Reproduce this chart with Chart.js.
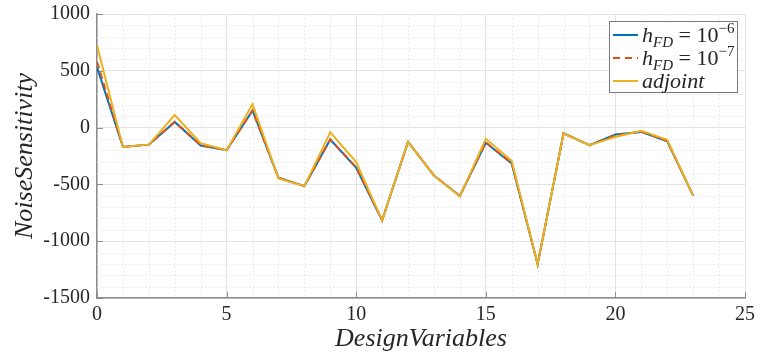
<!DOCTYPE html>
<html>
<head>
<meta charset="utf-8">
<script src="https://cdn.jsdelivr.net/npm/chart.js@4"></script>
<style>
  html, body { margin: 0; padding: 0; background: #fff; }
  #wrap { position: relative; width: 770px; height: 358px; }
  #legend {
    position: absolute; left: 609px; top: 21px; width: 127px; height: 69px;
    border: 1px solid #7a7a7a; background: #fff;
    font-family: "Liberation Serif", serif; font-size: 22px; color: #262626;
    padding-top: 1px;
  }
  .row { height: 23px; line-height: 23px; white-space: nowrap; display: flex; align-items: center; }
  .row svg { margin-left: 3px; margin-right: 4px; flex: none; }
  .row i { font-style: italic; }
  sub { font-size: 15px; vertical-align: -5px; line-height: 0; }
  sup { font-size: 15px; vertical-align: 9px; line-height: 0; }
</style>
</head>
<body>
<div id="wrap">
  <canvas id="c" width="770" height="358"></canvas>
  <div id="legend"></div>
</div>
<script>
// ---- data ----
const designVariables = [0,1,2,3,4,5,6,7,8,9,10,11,12,13,14,15,16,17,18,19,20,21,22,23];
const fdStep6 = [530,-170,-150,50,-158,-199,152,-440,-515,-105,-354,-816,-126,-421,-602,-134,-316,-1202,-50,-155,-61,-38,-120,-599];
const fdStep7 = [580,-170,-150,50,-155,-199,150,-442,-515,-105,-350,-816,-126,-421,-602,-130,-312,-1202,-50,-155,-68,-36,-118,-599];
const adjoint = [725,-170,-150,111,-138,-199,207,-447,-515,-41,-304,-816,-126,-421,-606,-99,-292,-1202,-52,-155,-82,-29,-108,-599];
const xTicks = [0,5,10,15,20,25];
const yTicks = [-1500,-1000,-500,0,500,1000];
const seriesNames = ['h_FD = 10^-6', 'h_FD = 10^-7', 'adjoint'];
const xTitle = 'DesignVariables';
const yTitle = 'NoiseSensitivity';

const colors = ['#0072BD', '#D95319', '#EDB120'];

function pts(ys) { return designVariables.map((x, i) => ({x: x, y: ys[i]})); }

const minorGrid = {
  id: 'minorGrid',
  beforeDatasetsDraw(chart) {
    const {ctx, chartArea: a, scales: {x, y}} = chart;
    ctx.save();
    ctx.strokeStyle = '#ececec';
    ctx.lineWidth = 1;
    ctx.setLineDash([2, 2]);
    for (let v = 0; v <= 25; v++) {
      if (v % 5 === 0) continue;
      const px = Math.round(x.getPixelForValue(v)) + 0.5;
      ctx.beginPath(); ctx.moveTo(px, a.top); ctx.lineTo(px, a.bottom); ctx.stroke();
    }
    for (let v = -1500; v <= 1000; v += 100) {
      if (v % 500 === 0) continue;
      const py = Math.round(y.getPixelForValue(v)) + 0.5;
      ctx.beginPath(); ctx.moveTo(a.left, py); ctx.lineTo(a.right, py); ctx.stroke();
    }
    ctx.setLineDash([]);
    // inward tick marks
    ctx.strokeStyle = '#8c8c8c';
    ctx.lineWidth = 1;
    xTicks.forEach(v => {
      const px = Math.round(x.getPixelForValue(v)) + 0.5;
      ctx.beginPath(); ctx.moveTo(px, a.bottom); ctx.lineTo(px, a.bottom - 6); ctx.stroke();
    });
    yTicks.forEach(v => {
      const py = Math.round(y.getPixelForValue(v)) + 0.5;
      ctx.beginPath(); ctx.moveTo(a.left, py); ctx.lineTo(a.left + 6, py); ctx.stroke();
    });
    ctx.restore();
  }
};

const tickFont = {family: '"Liberation Serif", serif', size: 20};
const titleFont = {family: '"Liberation Serif", serif', size: 26, style: 'italic'};

new Chart(document.getElementById('c'), {
  type: 'line',
  data: {
    datasets: [
      {label: seriesNames[0], order: 3, data: pts(fdStep6), borderColor: colors[0], borderWidth: 2, pointRadius: 0, tension: 0, fill: false},
      {label: seriesNames[1], order: 2, data: pts(fdStep7), borderColor: colors[1], borderWidth: 2, borderDash: [7, 4], pointRadius: 0, tension: 0, fill: false},
      {label: seriesNames[2], order: 1, data: pts(adjoint), borderColor: colors[2], borderWidth: 2, pointRadius: 0, tension: 0, fill: false}
    ]
  },
  options: {
    responsive: false,
    animation: false,
    events: [],
    layout: {padding: {top: 14, right: 25, left: 0, bottom: 0}},
    plugins: {legend: {display: false}, tooltip: {enabled: false}},
    scales: {
      x: {
        type: 'linear', min: 0, max: 25,
        afterBuildTicks: s => { s.ticks = xTicks.map(v => ({value: v})); },
        afterFit: s => { s.height = 60; s.paddingLeft = 0; s.paddingRight = 0; },
        ticks: {font: tickFont, color: '#262626', padding: 5, callback: v => String(v), maxRotation: 0},
        grid: {color: '#e3e3e3', lineWidth: 1, drawTicks: false},
        border: {display: true, color: '#8c8c8c', width: 1.5},
        title: {display: true, text: xTitle, font: titleFont, color: '#262626', padding: {top: 0, bottom: 3}}
      },
      y: {
        type: 'linear', min: -1500, max: 1000,
        afterBuildTicks: s => { s.ticks = yTicks.map(v => ({value: v})); },
        afterFit: s => { s.width = 97; s.paddingTop = 0; s.paddingBottom = 0; },
        ticks: {font: tickFont, color: '#262626', padding: 7, callback: v => String(v)},
        grid: {color: '#e3e3e3', lineWidth: 1, drawTicks: false},
        border: {display: true, color: '#8c8c8c', width: 1.5},
        title: {display: true, text: yTitle, font: titleFont, color: '#262626', padding: {top: 10, bottom: 0}}
      }
    }
  },
  plugins: [minorGrid]
});

// HTML legend with sub/superscripts
const legendEl = document.getElementById('legend');
const legendHtml = [
  '<i>h</i><sub><i>FD</i></sub>&nbsp;=&nbsp;10<sup>&minus;6</sup>',
  '<i>h</i><sub><i>FD</i></sub>&nbsp;=&nbsp;10<sup>&minus;7</sup>',
  '<i>adjoint</i>'
];
seriesNames.forEach((name, i) => {
  const row = document.createElement('div');
  row.className = 'row';
  const dash = i === 1 ? ' stroke-dasharray="7 5"' : '';
  row.innerHTML = '<svg width="25" height="4"><line x1="0" y1="2" x2="25" y2="2" stroke="' + colors[i] + '" stroke-width="2"' + dash + '/></svg><span>' + legendHtml[i] + '</span>';
  legendEl.appendChild(row);
});
</script>
</body>
</html>
